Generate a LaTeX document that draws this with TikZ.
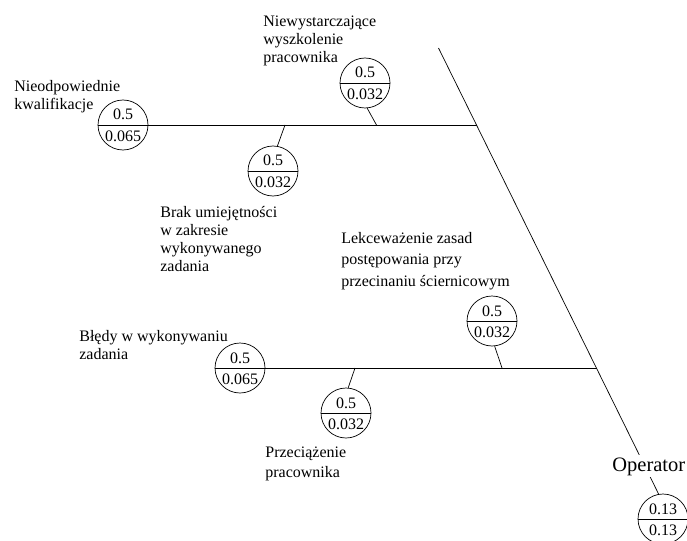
\documentclass[tikz,border=0pt]{standalone}
\usepackage{fontspec}
\setmainfont{Liberation Serif}
\newfontfamily\labelfont{Liberation Serif}
% probability circle: name, centre, upper value, lower value
\newcommand\probnode[4]{%
  \node[cause] (#1) at (#2) {};
  \draw (#1.west) -- (#1.east);
  \node[num] (#1-t) at ([yshift=5pt]#1.center) {#3};
  \node[num] (#1-b) at ([yshift=-16.5pt]#1.center) {#4};
}
\begin{document}
\begin{tikzpicture}[x=1pt,y=-1pt,line width=0.7pt,
  cause/.style={circle, draw, minimum size=50pt, inner sep=0pt},
  num/.style={anchor=base, inner sep=0pt, font=\labelfont\fontsize{16}{18}\selectfont},
  lbl/.style={anchor=north west, align=left, inner sep=0pt, font=\labelfont\fontsize{16}{18}\selectfont},
  opl/.style={anchor=base west, fill=white, inner sep=2pt, font=\labelfont\fontsize{20.5}{24}\selectfont}]
\clip (0,0) rectangle (687,540);

% spine and junction points
\coordinate (top) at (438.5,48);
\coordinate (j1) at (476.5,125);
\coordinate (j2) at (596.6,368);
\probnode{op}{663,519}{0.13}{0.13}
\draw (top) -- (op.100);
\node[opl] (oplabel) at (610,471) {Operator};

% upper branch
\probnode{c1}{123,125}{0.5}{0.065}
\probnode{c2}{273,171}{0.5}{0.032}
\probnode{c3}{365,83}{0.5}{0.032}
\coordinate (b2) at (285,125);
\coordinate (b3) at (376.5,125);
\draw (c1) -- (j1);
\draw (b2) -- (c2.80);
\draw (b3) -- (c3.-85);

% lower branch
\probnode{c6}{240,368}{0.5}{0.065}
\probnode{c7}{346,413}{0.5}{0.032}
\probnode{c4}{492,321}{0.5}{0.032}
\coordinate (b7) at (355,368);
\coordinate (b4) at (502,368);
\draw (c6) -- (j2);
\draw (b7) -- (c7.85);
\draw (b4) -- (c4.-84);

% cause labels
\node[lbl] (t3) at (263,14) {\rule{0pt}{12pt}Niewystarczające\\wyszkolenie\\pracownika};
\node[lbl] (t1) at (14,79) {\rule{0pt}{12pt}Nieodpowiednie\\kwalifikacje};
\node[lbl] (t2) at (160,205) {\rule{0pt}{12pt}Brak umiejętności\\w zakresie\\wykonywanego\\zadania};
\node[lbl, font=\labelfont\fontsize{16}{21.5}\selectfont] (t4) at (341,231) {\rule{0pt}{12pt}Lekceważenie zasad\\postępowania przy\\przecinaniu ściernicowym};
\node[lbl] (t6) at (79,329) {\rule{0pt}{12pt}Błędy w wykonywaniu\\zadania};
\node[lbl, font=\labelfont\fontsize{16}{20}\selectfont] (t7) at (265,445) {\rule{0pt}{12pt}Przeciążenie\\pracownika};
\end{tikzpicture}
\end{document}
